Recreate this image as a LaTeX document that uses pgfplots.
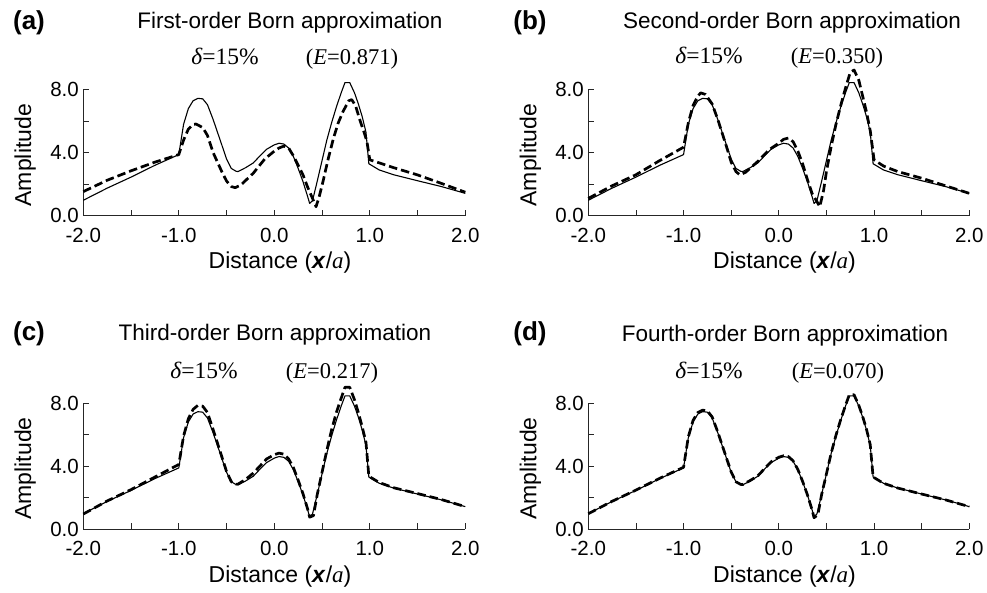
\documentclass[border=0pt]{standalone}
\usepackage{fontspec}
\setmainfont{Liberation Sans}
\newfontfamily\serif{Liberation Serif}
\usepackage{pgfplots}
\usepackage{pgfplotstable}
\pgfplotsset{compat=1.18}

% exact solution (solid)
\pgfplotstableread{
x y
-2.0 0.98
-1.75 1.75
-1.5 2.45
-1.25 3.2
-1.0 3.88
-0.95 5.8
-0.9 6.8
-0.85 7.3
-0.8 7.45
-0.75 7.42
-0.7 7.05
-0.64 6.1
-0.55 4.5
-0.5 3.6
-0.45 3.0
-0.4 2.82
-0.38 2.8
-0.3 3.05
-0.22 3.35
-0.15 3.8
-0.08 4.22
0.0 4.5
0.05 4.6
0.1 4.55
0.15 4.3
0.2 3.76
0.25 3.0
0.3 2.17
0.35 1.2
0.37 0.78
0.40 0.95
0.45 2.2
0.5 3.5
0.55 4.8
0.6 5.9
0.65 6.9
0.7 7.8
0.74 8.45
0.79 8.45
0.84 7.8
0.88 7.1
0.92 6.3
0.96 5.3
0.99 3.3
1.1 2.9
1.25 2.6
1.5 2.22
1.75 1.85
2.0 1.42
}\exact

\pgfplotstableread{
x y
-2.0 1.53
-1.75 2.25
-1.5 2.85
-1.25 3.4
-1.0 3.88
-0.95 4.8
-0.9 5.5
-0.85 5.8
-0.82 5.82
-0.75 5.6
-0.7 5.1
-0.64 4.0
-0.55 2.8
-0.5 2.2
-0.45 1.85
-0.41 1.78
-0.35 1.95
-0.22 2.7
-0.1 3.6
0.0 4.1
0.05 4.3
0.1 4.42
0.15 4.3
0.2 3.8
0.25 3.2
0.3 2.6
0.35 1.8
0.4 1.1
0.437 0.57
0.47 1.2
0.51 2.17
0.56 3.5
0.62 4.93
0.67 5.9
0.72 6.62
0.78 7.3
0.81 7.37
0.85 7.0
0.9 6.0
0.94 5.3
0.97 4.71
1.0 3.55
1.25 3.05
1.5 2.59
1.75 2.05
2.0 1.49
}\bornA

\pgfplotstableread{
x y
-2.0 1.1
-1.75 1.9
-1.5 2.6
-1.25 3.5
-1.0 4.35
-0.95 5.9
-0.9 7.0
-0.85 7.6
-0.82 7.8
-0.77 7.7
-0.7 7.1
-0.64 6.1
-0.55 4.4
-0.5 3.4
-0.45 2.8
-0.41 2.6
-0.35 2.75
-0.22 3.45
-0.1 4.2
0.0 4.6
0.05 4.85
0.1 4.93
0.15 4.7
0.2 4.1
0.25 3.3
0.3 2.3
0.35 1.4
0.4 0.9
0.43 0.57
0.47 1.6
0.5 2.8
0.55 4.4
0.6 5.8
0.65 7.0
0.7 8.1
0.75 9.1
0.79 9.25
0.84 8.6
0.88 7.6
0.92 6.6
0.96 5.4
1.0 3.55
1.1 3.15
1.25 2.8
1.5 2.38
1.75 1.9
2.0 1.42
}\bornB

\pgfplotstableread{
x y
-2.0 0.95
-1.75 1.78
-1.5 2.5
-1.25 3.3
-1.0 4.1
-0.95 5.9
-0.9 7.0
-0.85 7.6
-0.8 7.85
-0.75 7.8
-0.7 7.4
-0.64 6.3
-0.55 4.6
-0.5 3.65
-0.45 3.0
-0.4 2.85
-0.38 2.85
-0.3 3.15
-0.22 3.55
-0.15 4.0
-0.08 4.45
0.0 4.72
0.05 4.82
0.1 4.75
0.15 4.45
0.2 3.9
0.25 3.1
0.3 2.25
0.35 1.25
0.37 0.75
0.41 0.85
0.45 2.2
0.5 3.6
0.55 5.0
0.6 6.3
0.65 7.4
0.7 8.3
0.74 9.0
0.79 9.0
0.84 8.2
0.88 7.4
0.92 6.5
0.96 5.5
0.99 3.35
1.1 2.95
1.25 2.62
1.5 2.25
1.75 1.87
2.0 1.42
}\bornC

\pgfplotstableread{
x y
-2.0 0.97
-1.75 1.76
-1.5 2.47
-1.25 3.22
-1.0 3.92
-0.95 5.85
-0.9 6.9
-0.85 7.4
-0.8 7.55
-0.75 7.5
-0.7 7.12
-0.64 6.15
-0.55 4.52
-0.5 3.62
-0.45 3.0
-0.4 2.83
-0.38 2.82
-0.3 3.08
-0.22 3.38
-0.15 3.83
-0.08 4.27
0.0 4.56
0.05 4.65
0.1 4.6
0.15 4.33
0.2 3.78
0.25 3.02
0.3 2.18
0.35 1.2
0.37 0.72
0.41 0.9
0.45 2.2
0.5 3.5
0.55 4.82
0.6 5.95
0.65 6.95
0.7 7.85
0.74 8.52
0.79 8.52
0.84 7.85
0.88 7.15
0.92 6.35
0.96 5.35
0.99 3.3
1.1 2.9
1.25 2.6
1.5 2.22
1.75 1.85
2.0 1.42
}\bornD

\pgfplotsset{
  bornax/.style={
    scale only axis,
    width=382pt, height=126pt,
    xmin=-2, xmax=2, ymin=0, ymax=8,
    axis x line*=bottom, axis y line*=left,
    axis line style={black!85, line width=0.9pt},
    clip=false,
    xtick={-2,-1.5,...,2},
    xticklabels={-2.0,,-1.0,,0.0,,1.0,,2.0},
    ytick={0,2,4,6,8},
    yticklabels={0.0,,4.0,,8.0},
    tick align=inside,
    major tick length=6pt,
    tick style={black!85, line width=0.8pt},
    xticklabel style={font=\fontsize{20.5}{24}\selectfont, anchor=north, yshift=-9pt},
    yticklabel style={font=\fontsize{20.5}{24}\selectfont, anchor=east, xshift=-1pt},
    xlabel={Distance (\textbf{\textit{x}}/{\serif\itshape a})},
    ylabel={Amplitude},
    label style={font=\fontsize{23}{27}\selectfont},
    xlabel style={at={(axis description cs:0.515,-0.375)}, anchor=center},
    ylabel style={at={(axis description cs:-0.152,0.48)}, anchor=center},
  },
  exsty/.style={black, line width=1.1pt, line join=round},
  apsty/.style={black, line width=2.7pt, dash pattern=on 8.5pt off 4pt, line join=round},
}

\newcommand{\ttl}[1]{\fontsize{22.5}{27}\selectfont #1}
\newcommand{\plab}[1]{\fontsize{26}{30}\selectfont\bfseries #1}
\newcommand{\del}{\fontsize{23.5}{27}\selectfont\serif{\itshape δ}=15\%}
\newcommand{\eee}[1]{\fontsize{22.5}{26}\selectfont\serif({\itshape E}=#1)}

\begin{document}
\begin{tikzpicture}
\path[use as bounding box] (0,0) rectangle (987pt,592pt);

% (a)
\begin{axis}[bornax, at={(83.3pt,376.3pt)}, anchor=south west]
\addplot[exsty] table[x=x,y=y] {\exact};
\addplot[apsty] table[x=x,y=y] {\bornA};
\end{axis}
% (b)
\begin{axis}[bornax, width=381pt, at={(588.3pt,376.3pt)}, anchor=south west]
\addplot[exsty] table[x=x,y=y] {\exact};
\addplot[apsty] table[x=x,y=y] {\bornB};
\end{axis}
% (c)
\begin{axis}[bornax, at={(83.3pt,63pt)}, anchor=south west]
\addplot[exsty] table[x=x,y=y] {\exact};
\addplot[apsty] table[x=x,y=y] {\bornC};
\end{axis}
% (d)
\begin{axis}[bornax, width=381pt, at={(588.3pt,63pt)}, anchor=south west]
\addplot[exsty] table[x=x,y=y] {\exact};
\addplot[apsty] table[x=x,y=y] {\bornD};
\end{axis}

\node[anchor=base] at (29pt,562pt) {\plab{(a)}};
\node[anchor=base] at (290pt,563.7pt) {\ttl{First-order Born approximation}};
\node[anchor=base] at (225pt,527pt) {\del};
\node[anchor=base] at (352pt,527pt) {\eee{0.871}};

\node[anchor=base] at (530pt,562pt) {\plab{(b)}};
\node[anchor=base] at (792pt,563.7pt) {\ttl{Second-order Born approximation}};
\node[anchor=base] at (709pt,528pt) {\del};
\node[anchor=base] at (837pt,528pt) {\eee{0.350}};

\node[anchor=base] at (29pt,251pt) {\plab{(c)}};
\node[anchor=base] at (275pt,251.3pt) {\ttl{Third-order Born approximation}};
\node[anchor=base] at (204pt,214pt) {\del};
\node[anchor=base] at (332pt,214pt) {\eee{0.217}};

\node[anchor=base] at (530pt,251pt) {\plab{(d)}};
\node[anchor=base] at (785pt,250.3pt) {\ttl{Fourth-order Born approximation}};
\node[anchor=base] at (709pt,213.7pt) {\del};
\node[anchor=base] at (838pt,213.7pt) {\eee{0.070}};
\end{tikzpicture}
\end{document}
